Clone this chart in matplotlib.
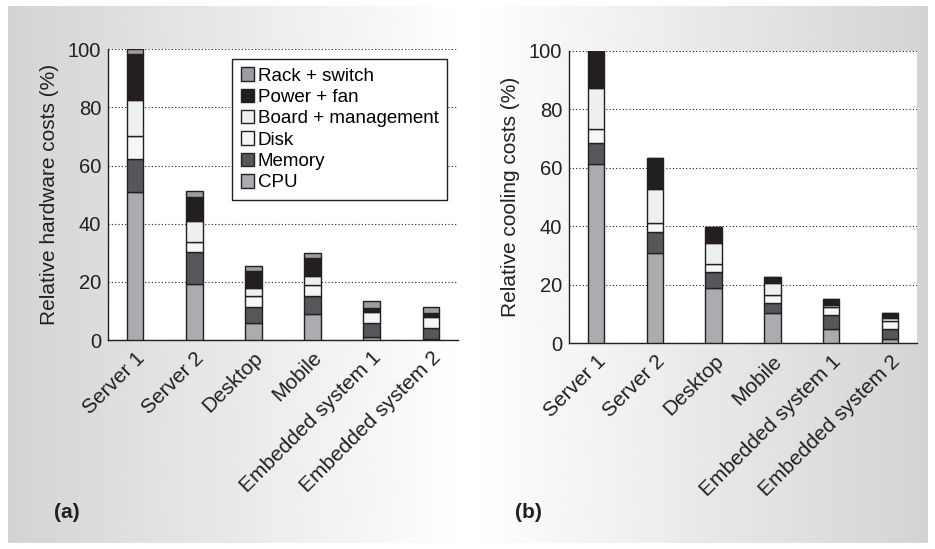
import numpy as np
import matplotlib.pyplot as plt
from matplotlib.patches import Patch

plt.rcParams['font.family'] = ['Liberation Sans', 'DejaVu Sans']

systems = ['Server 1', 'Server 2', 'Desktop', 'Mobile', 'Embedded system 1', 'Embedded system 2']
parts = ['CPU', 'Memory', 'Disk', 'Board + management', 'Power + fan', 'Rack + switch']
colors = ['#abacaf', '#55575a', '#f6f6f6', '#eeeff1', '#231f20', '#9c9da0']

# (a) relative hardware costs, stacked bottom to top
hw_cpu = [51.0, 19.3, 6.0, 8.9, 0.9, 0.3]
hw_memory = [11.2, 10.9, 5.4, 6.2, 4.8, 3.9]
hw_disk = [8.0, 3.5, 3.7, 3.9, 3.8, 3.6]
hw_board = [12.4, 7.4, 2.7, 3.0, 0.5, 0.3]
hw_power = [15.7, 8.0, 6.1, 6.1, 1.0, 1.3]
hw_rack = [1.7, 2.2, 1.7, 1.7, 2.5, 1.8]

# (b) relative cooling costs
cool_cpu = [61.3, 30.8, 19.0, 10.3, 5.0, 1.3]
cool_memory = [7.0, 7.2, 5.3, 3.5, 4.6, 3.7]
cool_disk = [4.9, 3.0, 2.9, 2.7, 2.7, 2.7]
cool_board = [14.2, 11.6, 7.0, 4.2, 0.7, 0.9]
cool_power = [12.6, 10.8, 5.4, 2.1, 2.3, 1.9]
cool_rack = [0, 0, 0, 0, 0, 0]

fig = plt.figure(figsize=(9.35, 5.49), dpi=100)

# grey-white-grey background panel
bg = fig.add_axes([0, 0, 1, 1], zorder=-10)
xx = np.linspace(0, 1, 400)
shade = 1 - 0.17 * np.abs(xx - 0.5) / 0.5
img = np.tile(shade, (10, 1))
bg.imshow(img, cmap='gray', vmin=0, vmax=1, aspect='auto',
          extent=[8 / 935, 928 / 935, 1 - 543 / 549, 1 - 6 / 549])
bg.set_xlim(0, 1)
bg.set_ylim(0, 1)
bg.axis('off')


def stacked(ax, series, ylabel):
    x = np.arange(len(systems))
    bottom = np.zeros(len(systems))
    for vals, c, lab in zip(series, colors, parts):
        vals = np.array(vals, dtype=float)
        ax.bar(x, vals, 0.28, bottom=bottom, color=c, edgecolor='#231f20',
               linewidth=1.0, label=lab, zorder=3)
        bottom += vals
    ax.set_xlim(-0.46, 5.46)
    ax.set_ylim(0, 100)
    ax.set_yticks([0, 20, 40, 60, 80, 100])
    ax.yaxis.grid(True, linestyle=(0, (1, 2)), color='#231f20', linewidth=0.8)
    ax.set_axisbelow(True)
    for s in ['top', 'right']:
        ax.spines[s].set_visible(False)
    for s in ['left', 'bottom']:
        ax.spines[s].set_color('#231f20')
        ax.spines[s].set_linewidth(1.0)
    ax.tick_params(axis='y', length=0, labelsize=14.5, colors='#231f20', pad=5)
    ax.tick_params(axis='x', length=0, labelsize=15, colors='#231f20', pad=6)
    ax.set_xticks(x)
    ax.set_xticklabels(systems, rotation=45, ha='right', rotation_mode='anchor')
    ax.set_ylabel(ylabel, fontsize=15, color='#231f20', labelpad=6)


ax1 = fig.add_axes([108 / 935, 1 - 340 / 549, 350 / 935, 290.7 / 549])
stacked(ax1, [hw_cpu, hw_memory, hw_disk, hw_board, hw_power, hw_rack],
        'Relative hardware costs (%)')

ax2 = fig.add_axes([569 / 935, 1 - 343.3 / 549, 348 / 935, 292.6 / 549])
stacked(ax2, [cool_cpu, cool_memory, cool_disk, cool_board, cool_power, cool_rack],
        'Relative cooling costs (%)')

handles = [Patch(facecolor=c, edgecolor='#231f20', linewidth=1.0) for c in colors][::-1]
leg = ax1.legend(handles, parts[::-1], loc='upper right', bbox_to_anchor=(0.969, 0.967),
                 borderaxespad=0, fontsize=13.5, handlelength=0.72, handleheight=0.72,
                 handletextpad=0.2, labelspacing=0.22, borderpad=0.45,
                 fancybox=False, framealpha=1)
leg.get_frame().set_edgecolor('#231f20')
leg.get_frame().set_linewidth(1.0)
leg.set_zorder(5)

fig.text(67 / 935, 1 - 513 / 549, '(a)', fontsize=15, fontweight='bold',
         ha='center', va='center', color='#231f20')
fig.text(528 / 935, 1 - 513 / 549, '(b)', fontsize=15, fontweight='bold',
         ha='center', va='center', color='#231f20')

fig.savefig('out.png', dpi=100)
